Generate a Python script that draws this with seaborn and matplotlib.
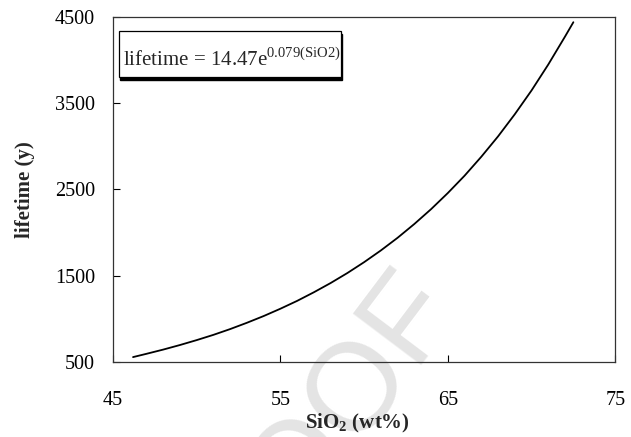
import matplotlib
matplotlib.use("Agg")
import matplotlib.pyplot as plt
from matplotlib.patches import Rectangle
import seaborn as sns
import pandas as pd

# curve (SiO2 wt% vs lifetime in years)
sio2 = [46.2, 47, 48, 49, 50, 51, 52, 53, 54, 55, 56, 57, 58, 59, 60,
        61, 62, 63, 64, 65, 66, 67, 68, 69, 70, 71, 72, 72.5]
lifetime = [555, 593, 642, 695, 752, 813, 880, 953, 1031, 1116, 1207, 1307,
            1414, 1530, 1656, 1792, 1939, 2099, 2271, 2458, 2659, 2879, 3115,
            3372, 3648, 3949, 4273, 4440]

x_ticks = [45, 55, 65, 75]
y_ticks = [500, 1500, 2500, 3500, 4500]

df = pd.DataFrame({"SiO2": sio2, "lifetime": lifetime})

sns.set_style("ticks")
plt.rcParams["font.family"] = ["Liberation Serif", "DejaVu Serif"]
plt.rcParams["mathtext.fontset"] = "custom"
plt.rcParams["mathtext.rm"] = "Liberation Serif"
plt.rcParams["mathtext.bf"] = "Liberation Serif:bold"

fig = plt.figure(figsize=(6.31, 4.37), dpi=100)
ax = fig.add_axes([0.179, 0.172, 0.796, 0.789])

# faint watermark behind everything
fig.text(0.727, 0.305, "PROOF", fontsize=90, color="#e4e4e4",
         family="Liberation Sans", rotation=53, rotation_mode="anchor",
         ha="right", va="baseline", zorder=-1)
ax.patch.set_alpha(0)

sns.lineplot(data=df, x="SiO2", y="lifetime", color="black", linewidth=1.3, ax=ax)

ax.set_xlim(45, 75)
ax.set_ylim(500, 4500)
ax.set_xticks(x_ticks)
ax.set_yticks(y_ticks)
ax.tick_params(direction="in", length=5, width=0.8, labelsize=14.5, colors="black")
ax.tick_params(axis="x", pad=21)
ax.tick_params(axis="y", pad=13)
for s in ax.spines.values():
    s.set_visible(True)
    s.set_linewidth(0.9)
    s.set_color("#333333")

ax.set_xlabel("SiO$_\\mathbf{2}$ (wt%)", fontsize=15, fontweight="bold")
ax.set_ylabel("lifetime (y)", fontsize=15, fontweight="bold")
ax.xaxis.set_label_coords(0.487, -0.145)
ax.yaxis.set_label_coords(-0.155, 0.5)

# equation box with a drop shadow
ax.add_patch(Rectangle((0.015, 0.818), 0.442, 0.133, transform=ax.transAxes,
                       facecolor="black", edgecolor="black", zorder=4))
ax.add_patch(Rectangle((0.012, 0.826), 0.442, 0.133, transform=ax.transAxes,
                       facecolor="white", edgecolor="black", linewidth=0.9, zorder=5))
ax.text(0.02, 0.858, "lifetime = 14.47e$^{\\mathrm{0.079(SiO2)}}$", transform=ax.transAxes,
        fontsize=15, ha="left", va="baseline", zorder=6)

fig.savefig("out.png", dpi=100)
